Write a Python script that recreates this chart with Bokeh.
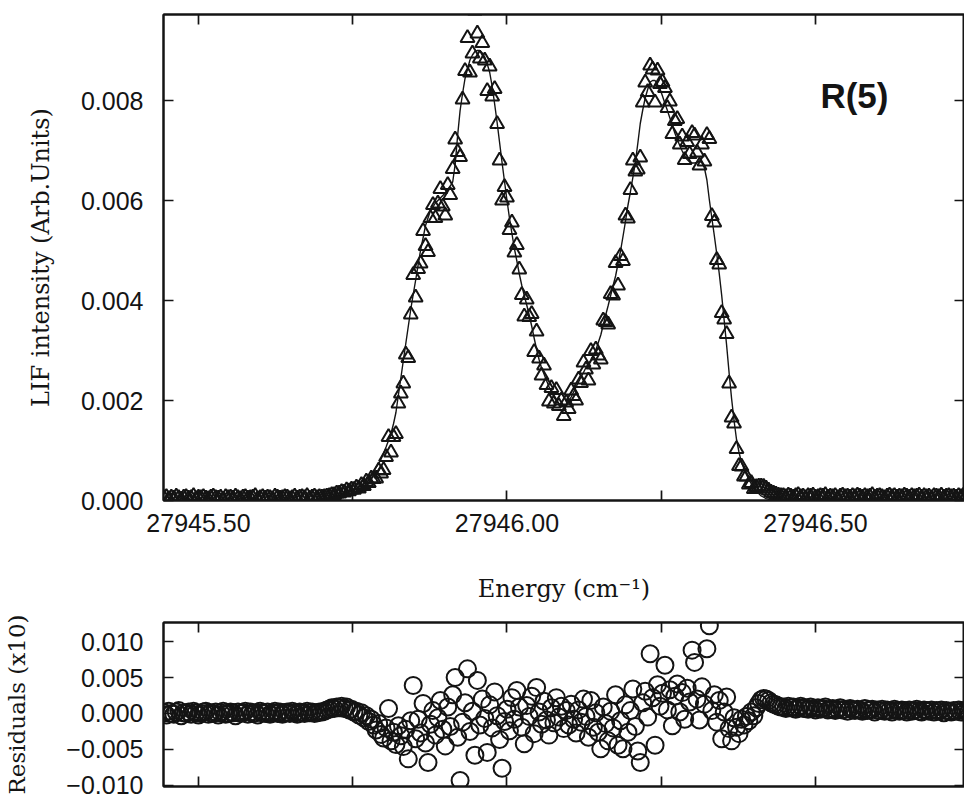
import numpy as np
from bokeh.plotting import figure
from bokeh.layouts import column
from bokeh.models import (ColumnDataSource, FixedTicker, LinearAxis, Range1d, Label,
                          CustomLabelingPolicy)
from bokeh.embed import file_html
from bokeh.resources import INLINE

# ---------------- data ----------------
# scan grid of the energy axis (cm^-1)
energy_start = 27945.444
energy_step = 0.004

# LIF intensity of the measured points, in units of 1e-4 (Arb. Units)
lif_intensity_1e4 = [
    0.5, 0.7, 0.3, 0.6, 0.4, 0.8, 0.5, 0.2, 0.6, 0.7,
    0.4, 0.5, 0.9, 0.3, 0.6, 0.5, 0.7, 0.4, 0.3, 0.6,
    0.8, 0.5, 0.4, 0.6, 0.2, 0.7, 0.5, 0.6, 0.4, 0.8,
    0.5, 0.3, 0.6, 0.7, 0.4, 0.5, 0.6, 0.9, 0.3, 0.5,
    0.7, 0.4, 0.6, 0.5, 0.3, 0.8, 0.6, 0.4, 0.5, 0.7,
    0.6, 0.3, 0.5, 0.8, 0.4, 0.6, 0.7, 0.5, 0.9, 0.4,
    0.6, 0.8, 0.5, 0.7,
    0.6, 0.7, 0.8, 0.9, 1.1, 1.1, 1.4, 1.4, 1.7, 1.6,
    2.05, 1.85, 2.2, 2.15, 2.6, 2.4, 3.1, 2.9, 3.8, 3.5,
    4.4, 4.3, 4.4, 6.0, 5.4, 6.1, 8.7, 12.7, 9.6, 12.7,
    13.3, 19.4, 21.4, 23.4, 29.2, 28.5, 37.2, 45.1, 40.6, 46.3,
    47.4, 53.9, 50.9, 49.7, 56.5, 59.1, 56.5, 59.4, 62.3, 58.8,
    57.0, 63.1, 61.1, 66.3, 72.2, 69.7, 68.7, 80.2, 85.9, 92.5,
    85.6, 89.4, 98.0, 93.4, 88.4, 91.5, 88.0, 81.9, 86.8, 80.8,
    82.3, 75.3, 68.0, 60.0, 62.7, 60.6, 54.1, 55.6, 49.6, 51.1,
    46.2, 41.1, 36.8, 40.2, 36.7, 37.3, 29.7, 33.8, 28.4, 25.0,
    27.0, 23.1, 19.8, 22.5, 19.4, 22.1, 18.9, 20.0, 16.9, 19.6,
    18.3, 22.0, 20.9, 20.0, 24.2, 23.5, 27.6, 26.2, 24.0, 29.9,
    27.2, 30.2, 29.0, 28.2, 36.0, 35.7, 35.2, 41.3, 41.0, 47.5,
    43.0, 48.9, 47.9, 57.0, 56.4, 62.1, 68.0, 65.8, 66.2, 68.6,
    79.6, 83.6, 81.7, 87.0, 86.2, 79.6, 86.0, 83.3, 83.7, 82.5,
    78.5, 79.8, 73.3, 75.9, 76.3, 71.2, 72.8, 68.1, 71.7, 69.3,
    73.5, 73.0, 69.6, 67.0, 71.2, 67.8, 73.1, 72.3, 56.9, 55.6,
    48.1, 47.2, 37.5, 36.2, 33.3, 23.4, 16.6, 15.4, 10.3, 6.9,
    6.8, 4.8, 4.8, 3.2, 3.5, 2.3, 2.7, 2.8, 2.8, 2.75,
    2.4, 2.0, 1.6, 1.4, 1.2, 1.0, 0.9,
    0.9, 0.7, 1.0, 0.8, 0.6, 0.9, 1.1, 0.7, 0.8, 0.5,
    0.9, 0.8, 1.0, 0.6, 0.7, 0.9, 0.8, 1.1, 0.6, 0.8,
    0.7, 0.9, 0.5, 0.8, 1.0, 0.7, 0.8, 0.6, 0.9, 0.7,
    1.0, 0.8, 0.6, 0.9, 0.7, 0.8, 1.1, 0.6, 0.8, 0.9,
    0.7, 0.5, 0.8, 1.0, 0.7, 0.9, 0.6, 0.8, 0.7, 1.0,
    0.8, 0.6, 0.9, 0.7, 0.8, 1.0, 0.6, 0.9, 0.7, 0.8,
    0.5, 0.9, 0.8, 0.7, 1.0, 0.6, 0.8, 0.9, 0.7, 0.8,
    0.6, 0.9, 0.7, 1.0, 0.8, 0.7,
]

# fitted profile (solid line), in units of 1e-4
fit_intensity_1e4 = [0.0] * 64 + [
    0.03, 0.08, 0.13, 0.18, 0.25, 0.35, 0.45, 0.55, 0.7, 0.9,
    1.15, 1.35, 1.6, 1.95, 2.3, 2.6, 3.0, 3.5, 4.1, 4.6,
    5.2, 5.9, 6.7, 7.4, 8.3, 9.5, 10.7, 12.0, 13.4, 15.3,
    17.6, 21.1, 24.5, 28.0, 31.4, 34.8, 38.2, 41.2, 44.1, 47.1,
    50.1, 52.5, 55.0, 56.5, 58.0, 58.7, 59.5, 60.0, 60.5, 61.0,
    61.5, 62.2, 62.9, 63.7, 67.2, 73.0, 78.0, 81.4, 84.4, 86.3,
    88.1, 89.1, 89.8, 90.0, 90.0, 89.5, 88.7, 87.3, 85.6, 82.8,
    79.3, 75.6, 71.6, 67.6, 63.8, 60.0, 56.5, 53.4, 50.4, 47.9,
    45.3, 43.0, 41.0, 39.1, 37.1, 34.9, 32.5, 30.2, 28.2, 26.5,
    25.3, 24.0, 22.8, 21.7, 20.7, 19.9, 19.4, 19.0, 19.0, 19.2,
    19.9, 20.7, 21.7, 22.7, 23.7, 24.7, 25.6, 26.6, 27.3, 28.1,
    29.1, 30.1, 31.6, 33.1, 35.1, 37.1, 39.0, 41.0, 43.0, 44.9,
    47.4, 49.9, 52.8, 55.8, 59.0, 61.7, 64.6, 67.6, 71.4, 75.4,
    78.1, 80.5, 82.2, 83.7, 84.0, 84.0, 83.2, 82.3, 80.9, 79.4,
    78.0, 76.5, 75.0, 73.5, 72.2, 71.0, 69.9, 68.9, 68.2, 67.7,
    67.5, 67.5, 67.6, 67.9, 67.5, 66.5, 64.1, 60.1, 56.5, 53.0,
    49.3, 45.4, 41.0, 36.0, 31.0, 25.5, 20.4, 16.0, 12.2, 9.7,
    7.6, 6.4, 5.2, 4.2, 3.3, 2.6, 1.9, 1.4, 0.9, 0.65,
    0.37, 0.23, 0.1, 0.07, 0.04, 0.02, 0.0,
] + [0.0] * 76

# residuals (x10), in units of 1e-3
residuals_x10_1e3 = [
    0.1, -0.2, 0.3, 0.0, -0.1, 0.2, 0.4, -0.3, 0.1, 0.0,
    0.2, -0.1, 0.3, 0.1, -0.2, 0.0, 0.2, 0.3, -0.1, 0.1,
    0.0, 0.2, -0.2, 0.1, 0.3, -0.1, 0.0, 0.2, 0.1, -0.3,
    0.2, 0.0, 0.1, 0.3, -0.1, 0.2, 0.0, 0.1, -0.2, 0.3,
    0.1, 0.0, 0.2, -0.1, 0.1, 0.3, 0.0, 0.2, -0.1, 0.1,
    0.2, 0.0, 0.3, 0.1, -0.1, 0.2, 0.1, 0.0, 0.3, 0.1,
    0.2, 0.0, 0.1, 0.2,
    0.2, 0.3, 0.5, 0.6, 0.8, 0.7, 0.9, 0.8, 1.0, 0.7,
    0.9, 0.5, 0.6, 0.2, 0.3, -0.2, 0.1, -0.6, -0.3, -1.1,
    -0.8, -1.6, -2.3, -1.4, -2.9, -3.4, -2.0, 0.7, -3.8, -2.6,
    -4.3, -1.7, -3.1, -4.6, -2.2, -6.3, -1.0, 3.9, -3.5, -0.8,
    -2.7, 1.4, -4.1, -6.8, -1.5, 0.4, -3.0, -0.6, 1.8, -2.2,
    -4.5, 0.9, -1.8, 2.6, 5.0, -3.3, -9.3, -1.2, 1.5, 6.2,
    -2.5, 0.3, -5.8, 4.6, -1.6, 2.0, -0.7, -5.4, 1.2, -2.0,
    3.0, -0.3, -3.6, -7.6, -1.1, 0.6, -2.4, 2.2, -0.8, 3.2,
    0.9, -1.9, -4.2, 1.1, -0.4, 2.4, -2.8, 3.6, 0.2, -1.5,
    1.7, -0.9, -3.0, 0.8, -1.3, 2.2, -0.5, 1.0, -2.1, 0.4,
    -1.6, 1.3, -0.8, -2.7, 0.5, -1.2, 2.0, -0.4, -3.3, 1.8,
    -1.9, 0.1, -2.6, -4.9, 0.9, -1.4, -3.8, 0.3, -2.0, 2.6,
    -4.4, -1.0, -4.9, 1.2, -2.6, 0.4, 3.4, -1.8, -5.2, -6.8,
    1.5, 3.1, -0.5, 8.3, 2.2, -4.4, 4.0, 1.0, 2.8, 6.7,
    0.5, 3.3, -1.7, 2.4, 4.1, 0.2, 2.9, -0.8, 3.5, 1.6,
    8.8, 7.1, 2.0, -0.9, 3.7, 1.3, 9.0, 12.2, 0.4, 2.6,
    -1.2, 1.8, -3.5, 0.2, 2.3, -2.1, -3.8, -0.6, -1.9, -2.8,
    -0.8, -1.6, -0.4, -1.0, 0.2, -0.3, 0.8, 1.4, 1.9, 2.1,
    2.0, 1.8, 1.5, 1.3, 1.2, 1.0, 0.9,
    0.9, 0.7, 1.0, 0.8, 0.9, 0.6, 0.8, 1.0, 0.7, 0.8,
    0.6, 0.9, 0.7, 0.5, 0.8, 0.6, 0.7, 0.9, 0.5, 0.6,
    0.7, 0.4, 0.6, 0.8, 0.5, 0.6, 0.3, 0.7, 0.5, 0.4,
    0.6, 0.5, 0.3, 0.7, 0.4, 0.5, 0.6, 0.2, 0.5, 0.4,
    0.6, 0.3, 0.5, 0.4, 0.2, 0.6, 0.4, 0.3, 0.5, 0.4,
    0.2, 0.5, 0.3, 0.4, 0.6, 0.3, 0.2, 0.5, 0.4, 0.3,
    0.5, 0.2, 0.4, 0.3, 0.5, 0.1, 0.4, 0.3, 0.2, 0.4,
    0.3, 0.5, 0.2, 0.4, 0.3, 0.2,
]

x_ticks = [27945.50, 27945.75, 27946.00, 27946.25, 27946.50]
x_tick_labels = ["27945.50", "27945.75", "27946.00", "27946.25", "27946.50"]
top_y_ticks = [0.000, 0.002, 0.004, 0.006, 0.008]
top_y_tick_labels = ["0.000", "0.002", "0.004", "0.006", "0.008"]
res_y_ticks = [-0.010, -0.005, 0.000, 0.005, 0.010]
res_y_tick_labels = ["\u22120.010", "\u22120.005", "0.000", "0.005", "0.010"]

# ---------------- build sources ----------------
def grid(n):
    return energy_start + energy_step * np.arange(n)

data_src = ColumnDataSource(dict(x=grid(len(lif_intensity_1e4)),
                                 y=np.array(lif_intensity_1e4) * 1e-4))
fit_src = ColumnDataSource(dict(x=grid(len(fit_intensity_1e4)),
                                y=np.array(fit_intensity_1e4) * 1e-4))
res_src = ColumnDataSource(dict(x=grid(len(residuals_x10_1e3)),
                                y=np.array(residuals_x10_1e3) * 1e-3))

INK = "#141414"
TICK_FONT = "Liberation Sans"
LABEL_FONT = "DejaVu Serif"
X_LO, X_HI = 27945.4433, 27946.7415

# label only every other tick (27945.50, 27946.00, 27946.50)
EVERY_OTHER = "for (const i of indices) { if (i % 2 == 0) yield i }"
NO_LABELS = "return []"


def style_axis(ax, ticks, labels, show_labels=True, policy=None):
    ax.ticker = FixedTicker(ticks=ticks, minor_ticks=[])
    ax.major_label_overrides = {t: l for t, l in zip(ticks, labels)}
    ax.major_tick_in = 10
    ax.major_tick_out = 0
    ax.minor_tick_in = 0
    ax.minor_tick_out = 0
    ax.axis_line_color = INK
    ax.axis_line_width = 2
    ax.major_tick_line_color = INK
    ax.major_tick_line_width = 1.7
    ax.major_label_text_color = INK
    ax.major_label_text_font = TICK_FONT
    ax.major_label_text_font_size = "25px"
    ax.axis_label_text_font = LABEL_FONT
    ax.axis_label_text_font_style = "normal"
    ax.axis_label_text_color = INK
    ax.axis_label_text_font_size = "24px"
    if policy is not None:
        ax.major_label_policy = CustomLabelingPolicy(code=policy)
    if not show_labels:
        ax.major_label_policy = CustomLabelingPolicy(code=NO_LABELS)
        ax.major_label_text_font_size = "0px"
        ax.major_label_standoff = 0


# ---------------- top panel ----------------
top = figure(width=964, height=612, output_backend="svg", toolbar_location=None,
             x_range=Range1d(X_LO, X_HI), y_range=Range1d(0.0, 0.00972),
             min_border_left=163, min_border_right=0, min_border_top=14,
             min_border_bottom=112)
top.grid.visible = False
top.outline_line_color = INK
top.outline_line_width = 2
top.background_fill_color = "white"
top.border_fill_color = "white"

xa = top.xaxis[0]
style_axis(xa, x_ticks, x_tick_labels, policy=EVERY_OTHER)
xa.axis_label = "Energy (cm\u207b\u00b9)"
xa.major_label_standoff = 13
xa.axis_label_standoff = 40

ya = top.yaxis[0]
style_axis(ya, top_y_ticks, top_y_tick_labels)
ya.axis_label = "LIF intensity (Arb.Units)"
ya.major_label_standoff = 20
ya.axis_label_standoff = 23

top_above = LinearAxis()
style_axis(top_above, x_ticks, x_tick_labels, show_labels=False)
top.add_layout(top_above, "above")
top_right = LinearAxis()
style_axis(top_right, top_y_ticks, top_y_tick_labels, show_labels=False)
top.add_layout(top_right, "right")

top.line("x", "y", source=fit_src, line_color=INK, line_width=1.4)
top.scatter("x", "y", source=data_src, marker="triangle", size=14,
            fill_alpha=0, line_color=INK, line_width=2.0)

top.add_layout(Label(x=27946.508, y=0.0081, text="R(5)", text_font="Liberation Sans",
                     text_font_style="bold", text_font_size="35px",
                     text_color=INK, text_baseline="middle"))

# ---------------- residual panel ----------------
bot = figure(width=964, height=190, output_backend="svg", toolbar_location=None,
             x_range=Range1d(X_LO, X_HI), y_range=Range1d(-0.01014, 0.01264),
             min_border_left=163, min_border_right=0, min_border_top=10,
             min_border_bottom=16)
bot.grid.visible = False
bot.outline_line_color = INK
bot.outline_line_width = 2
bot.background_fill_color = "white"
bot.border_fill_color = "white"

bx = bot.xaxis[0]
style_axis(bx, x_ticks, x_tick_labels, show_labels=False)
by = bot.yaxis[0]
style_axis(by, res_y_ticks, res_y_tick_labels)
by.axis_label = "Residuals (x10)"
by.axis_label_text_font_size = "23px"
by.major_label_standoff = 20
by.axis_label_standoff = 33

bot_above = LinearAxis()
style_axis(bot_above, x_ticks, x_tick_labels, show_labels=False)
bot.add_layout(bot_above, "above")
bot_right = LinearAxis()
style_axis(bot_right, res_y_ticks, res_y_tick_labels, show_labels=False)
bot.add_layout(bot_right, "right")

bot.scatter("x", "y", source=res_src, marker="circle", size=17,
            fill_alpha=0, line_color=INK, line_width=2.0)

layout = column(top, bot, spacing=0)
open("out.html", "w").write(file_html(layout, INLINE))
